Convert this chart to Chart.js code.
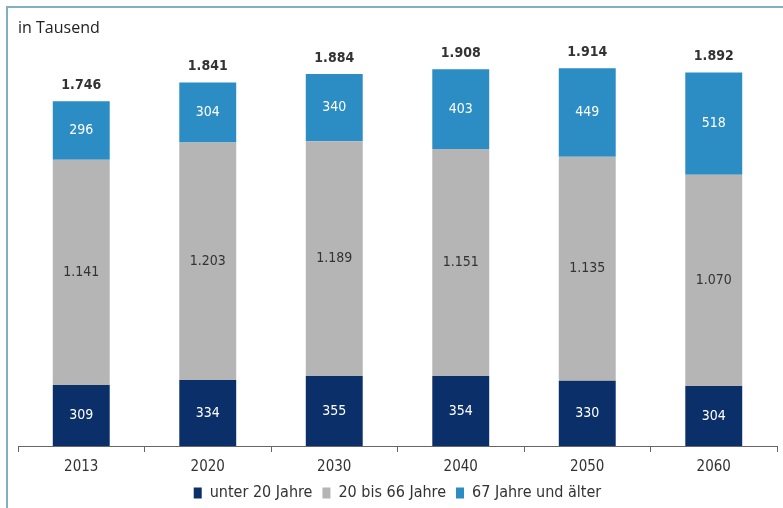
<!DOCTYPE html>
<html lang="de">
<head>
<meta charset="utf-8">
<title>Bevölkerung nach Altersgruppen</title>
<script src="https://cdn.jsdelivr.net/npm/chart.js@4/dist/chart.umd.min.js"></script>
<style>
  html, body { margin: 0; padding: 0; background: #fff; }
  #wrap { position: relative; width: 783px; height: 508px; }
  #frame {
    position: absolute; left: 6px; top: 6px; right: 0; bottom: 0;
    border-left: 2px solid #7fb1c0; border-top: 2px solid #7fb1c0;
    pointer-events: none;
  }
  canvas { display: block; }
</style>
</head>
<body>
<div id="wrap">
  <canvas id="chart" width="783" height="508"></canvas>
  <div id="frame"></div>
</div>
<script>
// Jahre und Werte (in Tausend)
const jahre = ['2013', '2020', '2030', '2040', '2050', '2060'];
const unter20 = [309, 334, 355, 354, 330, 304];
const von20bis66 = [1141, 1203, 1189, 1151, 1135, 1070];
const ab67 = [296, 304, 340, 403, 449, 518];
const gesamt = [1746, 1841, 1884, 1908, 1914, 1892];

const serienNamen = ['unter 20 Jahre', '20 bis 66 Jahre', '67 Jahre und älter'];
const farben = ['#0b3069', '#b5b5b5', '#2b8dc3'];
const textFarben = ['#ffffff', '#333333', '#ffffff'];

const schmal = "'Liberation Sans Narrow', 'DejaVu Sans Condensed', 'Roboto', sans-serif";

// 1234 -> "1.234"
function fmt(n) {
  return String(n).replace(/\B(?=(\d{3})+(?!\d))/g, '.');
}

// Werte in die Segmente und Summen über die Säulen schreiben
const wertePlugin = {
  id: 'werte',
  afterDatasetsDraw(chart) {
    const ctx = chart.ctx;
    ctx.save();
    ctx.textAlign = 'center';
    ctx.textBaseline = 'middle';
    chart.data.datasets.forEach((ds, i) => {
      const meta = chart.getDatasetMeta(i);
      ctx.font = '14px ' + schmal;
      ctx.fillStyle = textFarben[i];
      meta.data.forEach((bar, j) => {
        ctx.fillText(fmt(ds.data[j]), bar.x, (bar.y + bar.base) / 2);
      });
    });
    const oben = chart.getDatasetMeta(chart.data.datasets.length - 1);
    ctx.font = 'bold 14px ' + schmal;
    ctx.fillStyle = '#333333';
    oben.data.forEach((bar, j) => {
      ctx.fillText(fmt(gesamt[j]), bar.x, bar.y - 16);
    });
    ctx.restore();
  }
};

const datasets = [unter20, von20bis66, ab67].map((werte, i) => ({
  label: serienNamen[i],
  data: werte,
  backgroundColor: farben[i],
  borderWidth: 0,
  barPercentage: 0.9,
  categoryPercentage: 0.5
}));

new Chart(document.getElementById('chart'), {
  type: 'bar',
  data: { labels: jahre, datasets: datasets },
  options: {
    responsive: false,
    animation: false,
    layout: { padding: { left: 18, right: 6, top: 0, bottom: -3 } },
    scales: {
      x: {
        stacked: true,
        // feste Höhe der Achse, damit die Legende dicht darunter sitzt
        afterFit(scale) { scale.height = 29; },
        grid: {
          display: true,
          drawOnChartArea: false,
          drawTicks: true,
          tickLength: 6,
          color: '#666666',
          offset: true
        },
        border: { display: true, color: '#666666', width: 1 },
        ticks: {
          color: '#333333',
          font: { size: 15, family: schmal, lineHeight: 1 },
          padding: 8
        }
      },
      y: {
        stacked: true,
        display: false,
        min: 0,
        max: 2000
      }
    },
    plugins: {
      title: {
        display: true,
        text: 'in Tausend',
        align: 'start',
        color: '#222222',
        font: { size: 16, weight: 'normal', family: "'Open Sans', sans-serif" },
        padding: { top: 19, bottom: 13 }
      },
      legend: {
        position: 'bottom',
        labels: {
          boxWidth: 8,
          boxHeight: 11,
          padding: 10,
          color: '#333333',
          font: { size: 16, family: schmal }
        }
      },
      tooltip: { enabled: false }
    }
  },
  plugins: [wertePlugin]
});
</script>
</body>
</html>
